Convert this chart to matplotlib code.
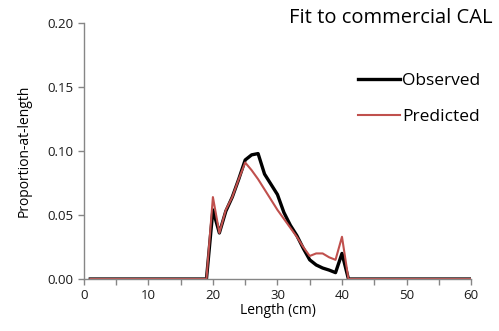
import matplotlib
matplotlib.use("Agg")
import matplotlib.pyplot as plt
import numpy as np

lengths = list(range(1, 61))
observed_nonzero = {19: 0.0, 20: 0.054, 21: 0.036, 22: 0.053, 23: 0.064, 24: 0.078,
                    25: 0.093, 26: 0.097, 27: 0.098, 28: 0.082, 29: 0.074, 30: 0.066,
                    31: 0.052, 32: 0.042, 33: 0.034, 34: 0.024, 35: 0.015, 36: 0.011,
                    37: 0.0086, 38: 0.007, 39: 0.005, 40: 0.020, 41: 0.0}
predicted_nonzero = {19: 0.0, 20: 0.064, 21: 0.036, 22: 0.054, 23: 0.064, 24: 0.078,
                     25: 0.091, 26: 0.085, 27: 0.078, 28: 0.070, 29: 0.062, 30: 0.054,
                     31: 0.047, 32: 0.040, 33: 0.033, 34: 0.025, 35: 0.018, 36: 0.020,
                     37: 0.020, 38: 0.017, 39: 0.015, 40: 0.033, 41: 0.0}
observed = [observed_nonzero.get(l, 0.0) for l in lengths]
predicted = [predicted_nonzero.get(l, 0.0) for l in lengths]

xticks = [0, 10, 20, 30, 40, 50, 60]
yticks = [0.00, 0.05, 0.10, 0.15, 0.20]

font = ["Open Sans", "DejaVu Sans"]
plt.rcParams['font.family'] = font

fig = plt.figure(figsize=(4.99, 3.31), dpi=100)
ax = fig.add_axes([0.168, 0.157, 0.776, 0.7735])

ax.plot(lengths, observed, color="black", lw=2.4, label="Observed", solid_joinstyle="round")
ax.plot(lengths, predicted, color="#C0504D", lw=1.5, label="Predicted", solid_joinstyle="round")

ax.set_xlim(0, 60)
ax.set_ylim(0, 0.20)
ax.set_xticks(xticks)
ax.set_xticks(range(0, 61, 5), minor=True)
ax.set_yticks(yticks)
ax.set_yticklabels([f"{v:.2f}" for v in yticks])
ax.set_xticklabels([str(v) for v in xticks])

for s in ["top", "right"]:
    ax.spines[s].set_visible(False)
for s in ["left", "bottom"]:
    ax.spines[s].set_color("#868686")
    ax.spines[s].set_linewidth(1.0)
ax.tick_params(axis="both", which="both", color="#868686", length=4, width=1.0,
               labelsize=9.5, labelcolor="#1a1a1a")
ax.tick_params(axis="x", pad=3)

ax.set_xlabel("Length (cm)", fontsize=10, labelpad=1)
ax.set_ylabel("Proportion-at-length", fontsize=10, labelpad=11)

fig.text(0.986, 0.945, "Fit to commercial CAL", ha="right", va="center", fontsize=14.5)

leg = ax.legend(loc="upper right", bbox_to_anchor=(1.065, 0.865), frameon=False,
                fontsize=12.5, handlelength=2.4, handletextpad=0.15, labelspacing=1.15)

fig.savefig("out.png", dpi=100)
